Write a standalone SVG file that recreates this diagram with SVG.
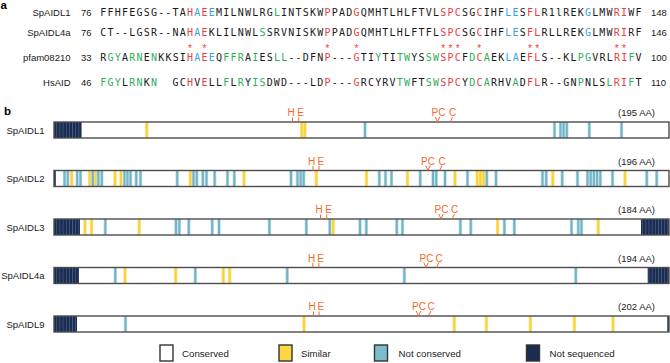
<svg xmlns="http://www.w3.org/2000/svg" xmlns:xlink="http://www.w3.org/1999/xlink" width="670" height="363" viewBox="0 0 670 363">
<style>
.lbl{font-family:"Liberation Sans",Arial,sans-serif;font-size:9.5px;fill:#1a1a1a}
.pl{font-family:"Liberation Sans",Arial,sans-serif;font-weight:bold;font-size:11.5px;fill:#000}
.seq{font-family:"DejaVu Sans Mono",monospace;font-size:10px;letter-spacing:1.21px;fill:#1a1a1a}
.r{fill:#e8403f}.b{fill:#3aa3dd}.g{fill:#2eae5b}
.ast{font-family:"Liberation Sans",Arial,sans-serif;font-size:10px;fill:#e8403f;text-anchor:middle}
.mk{font-family:"Liberation Sans",Arial,sans-serif;font-size:10px;fill:#f26a2a;text-anchor:middle}
.tk{stroke:#f26a2a;stroke-width:1;fill:none}
.bg{fill:#fff}
.out{fill:none;stroke:#4d4d4d;stroke-width:1.4}
.ns{fill:url(#nsp)}
.lb{stroke:#333;stroke-width:1.4}
</style>
<defs>
<pattern id="nsp" patternUnits="userSpaceOnUse" x="54" y="0" width="3.15" height="40">
<rect width="3.15" height="40" fill="#1b2c4f"/><rect x="2.4" width="0.6" height="40" fill="#4c6c9c"/>
</pattern>
<g id="t"><rect x="-1.7" width="3.4" height="16" fill="#bddfe8"/><rect x="-1" width="2" height="16" fill="#72b4c7"/></g>
<g id="y"><rect x="-1.7" width="3.4" height="16" fill="#fde68a"/><rect x="-1" width="2" height="16" fill="#fbd238"/></g>
</defs>
<rect width="670" height="363" fill="#fff"/>

<text class="pl" x="0.5" y="9">a</text>
<text class="pl" x="4" y="114.5">b</text>

<g id="alignment">
<text class="lbl" x="70.5" y="15.5" text-anchor="end">SpAIDL1</text>
<text class="lbl" x="81" y="15.5">76</text>
<text class="seq" x="100.3" y="15.5">FFHFEGSG--TA<tspan class="r">H</tspan><tspan class="b">A</tspan><tspan class="r">E</tspan><tspan class="b">E</tspan>MILNWLRG<tspan class="g">L</tspan>INTSKW<tspan class="r">P</tspan>PAD<tspan class="r">G</tspan>QMHTLHLFTVL<tspan class="r">SPC</tspan>SG<tspan class="r">C</tspan>IHF<tspan class="b">LE</tspan>S<tspan class="r">FL</tspan>R1lREK<tspan class="b">G</tspan>LMW<tspan class="r">RI</tspan>WF</text>
<text class="lbl" x="651" y="15.5">148</text>

<text class="lbl" x="70.5" y="35.5" text-anchor="end">SpAIDL4a</text>
<text class="lbl" x="81" y="35.5">76</text>
<text class="seq" x="100.3" y="35.5">CT--LGSR--NA<tspan class="r">H</tspan><tspan class="b">A</tspan><tspan class="r">E</tspan>KLILNWL<tspan class="g">S</tspan>SRVNISKW<tspan class="r">P</tspan>PAD<tspan class="r">G</tspan>QMHTLHLFTFL<tspan class="r">SPC</tspan>SG<tspan class="r">C</tspan>IHF<tspan class="b">LE</tspan>S<tspan class="r">FL</tspan>RLLREK<tspan class="b">G</tspan>LMW<tspan class="r">RI</tspan>RF</text>
<text class="lbl" x="651" y="35.5">146</text>

<text id="asterisks" class="ast" y="51.5"><tspan x="190.07">*</tspan><tspan x="204.53">*</tspan><tspan x="327.44">*</tspan><tspan x="356.36">*</tspan><tspan x="443.12">*</tspan><tspan x="450.35">*</tspan><tspan x="457.58">*</tspan><tspan x="479.27">*</tspan><tspan x="529.88">*</tspan><tspan x="537.11">*</tspan><tspan x="616.64">*</tspan><tspan x="623.87">*</tspan></text>

<text class="lbl" x="70.5" y="60.5" text-anchor="end">pfam08210</text>
<text class="lbl" x="81" y="60.5">33</text>
<text class="seq" x="100.3" y="60.5">R<tspan class="g">GY</tspan>A<tspan class="g">RN</tspan>E<tspan class="g">N</tspan>KKSI<tspan class="r">H</tspan><tspan class="b">A</tspan><tspan class="r">E</tspan><tspan class="b">E</tspan>Q<tspan class="g">FFR</tspan>A<tspan class="g">I</tspan>ES<tspan class="g">LL</tspan>--DFN<tspan class="r">P</tspan>---<tspan class="r">G</tspan>TI<tspan class="g">Y</tspan>TI<tspan class="g">TW</tspan>YS<tspan class="g">SW</tspan><tspan class="r">SPC</tspan>F<tspan class="g">D</tspan><tspan class="r">C</tspan><tspan class="g">A</tspan>EK<tspan class="b">LA</tspan>E<tspan class="r">FL</tspan>S--KL<tspan class="g">PG</tspan>VRL<tspan class="r">RI</tspan><tspan class="g">F</tspan>V</text>
<text class="lbl" x="651" y="60.5">100</text>

<text class="lbl" x="70.5" y="86" text-anchor="end">HsAID</text>
<text class="lbl" x="81" y="86">46</text>
<text class="seq" x="100.3" y="86"><tspan class="g">FGY</tspan>L<tspan class="g">RN</tspan>K<tspan class="g">N</tspan><tspan x="172.6">GC</tspan><tspan class="r">H</tspan>V<tspan class="r">E</tspan>LL<tspan class="g">F</tspan>L<tspan class="g">R</tspan>Y<tspan class="g">IS</tspan>DWD---LD<tspan class="r">P</tspan>---<tspan class="r">G</tspan>RCYRV<tspan class="g">TW</tspan>FT<tspan class="g">SW</tspan><tspan class="r">SPC</tspan>Y<tspan class="g">D</tspan><tspan class="r">C</tspan><tspan class="g">A</tspan>RHV<tspan class="g">A</tspan>D<tspan class="r">FL</tspan>R--GN<tspan class="g">P</tspan>NLS<tspan class="g">L</tspan><tspan class="r">RI</tspan><tspan class="g">F</tspan>T</text>
<text class="lbl" x="651" y="86">110</text>
</g>

<!-- row 1 -->
<g id="SpAIDL1">
<text class="lbl" x="44.5" y="133.5" text-anchor="end">SpAIDL1</text>
<text class="lbl" x="655" y="116" text-anchor="end">(195 AA)</text>
<rect class="bg" x="54" y="122" width="615" height="16"/>
<rect class="ns" x="54" y="122" width="27.6" height="16"/>
<use xlink:href="#y" x="146.8" y="122"/><use xlink:href="#y" x="301.7" y="122"/><use xlink:href="#y" x="304.8" y="122"/>
<use xlink:href="#t" x="365" y="122"/><use xlink:href="#t" x="554.5" y="122"/><use xlink:href="#t" x="560.5" y="122"/><use xlink:href="#t" x="563.6" y="122"/><use xlink:href="#t" x="566.8" y="122"/><use xlink:href="#t" x="589.3" y="122"/><use xlink:href="#t" x="621.5" y="122"/>
<rect class="out" x="54" y="122" width="615" height="16"/>
<text class="mk" x="291.2" y="116">H</text><text class="mk" x="300.5" y="116">E</text>
<path class="tk" d="M292.5 117.5V122M298.7 117.5V122"/>
<text class="mk" x="438.5" y="116">PC</text><text class="mk" x="452.5" y="116">C</text>
<path class="tk" d="M435.3 117L437.5 122L439.7 117M452.6 117L450 122"/>
</g>

<!-- row 2 -->
<g id="SpAIDL2">
<text class="lbl" x="44.5" y="182" text-anchor="end">SpAIDL2</text>
<text class="lbl" x="655" y="164.5" text-anchor="end">(196 AA)</text>
<rect class="bg" x="54" y="170.5" width="615" height="16"/>
<rect x="54" y="170.5" width="1.8" height="16" fill="#1b2c4f"/>
<g transform="translate(0,170.5)">
<use xlink:href="#t" x="64.5"/><use xlink:href="#t" x="67.8"/><use xlink:href="#y" x="71.7"/><use xlink:href="#t" x="77.2"/><use xlink:href="#t" x="80.5"/><use xlink:href="#y" x="89.7"/><use xlink:href="#t" x="92.8"/><use xlink:href="#y" x="95.7"/><use xlink:href="#t" x="98.3"/><use xlink:href="#t" x="101.8"/>
<use xlink:href="#y" x="115"/><use xlink:href="#y" x="121"/><use xlink:href="#t" x="124.5"/><use xlink:href="#t" x="127.5"/><use xlink:href="#t" x="130.5"/><use xlink:href="#t" x="136.2"/><use xlink:href="#t" x="140.5"/>
<use xlink:href="#t" x="177.2"/><use xlink:href="#y" x="190.3"/><use xlink:href="#t" x="193.5"/><use xlink:href="#t" x="196.8"/><use xlink:href="#t" x="202.8"/><use xlink:href="#t" x="206.5"/><use xlink:href="#t" x="214.7"/>
<use xlink:href="#t" x="227.5"/><use xlink:href="#t" x="234.3"/><use xlink:href="#y" x="244"/>
<use xlink:href="#t" x="291"/><use xlink:href="#t" x="297.5"/><use xlink:href="#t" x="300.7"/><use xlink:href="#t" x="303.7"/><use xlink:href="#y" x="316.3"/>
<use xlink:href="#y" x="366.5"/><use xlink:href="#t" x="379.3"/><use xlink:href="#t" x="385.5"/><use xlink:href="#t" x="391.5"/><use xlink:href="#y" x="407.5"/>
<use xlink:href="#t" x="420.2"/><use xlink:href="#t" x="433"/><use xlink:href="#t" x="436.2"/><use xlink:href="#t" x="445"/><use xlink:href="#y" x="455"/>
<use xlink:href="#t" x="467.5"/><use xlink:href="#y" x="477.2"/><use xlink:href="#y" x="480.4"/><use xlink:href="#y" x="483.6"/><use xlink:href="#t" x="486.8"/><use xlink:href="#t" x="496"/>
<use xlink:href="#t" x="542.5"/><use xlink:href="#t" x="546.2"/><use xlink:href="#y" x="552.8"/><use xlink:href="#t" x="562.2"/><use xlink:href="#t" x="577.5"/>
<use xlink:href="#t" x="587.5"/><use xlink:href="#t" x="590.7"/><use xlink:href="#t" x="593.9"/><use xlink:href="#t" x="597.1"/><use xlink:href="#t" x="600.3"/>
<use xlink:href="#t" x="612.5"/><use xlink:href="#y" x="625"/><use xlink:href="#t" x="646.8"/><use xlink:href="#t" x="656.7"/>
</g>
<rect class="out" x="54" y="170.5" width="615" height="16"/>
<text class="mk" x="311.7" y="164.5">H</text><text class="mk" x="320.8" y="164.5">E</text>
<path class="tk" d="M313 166V170.5M319 166V170.5"/>
<text class="mk" x="428" y="164.5">PC</text><text class="mk" x="442" y="164.5">C</text>
<path class="tk" d="M425.8 165.5L428 170.5L430.2 165.5M442.1 165.5L439.5 170.5"/>
</g>

<!-- row 3 -->
<g id="SpAIDL3">
<text class="lbl" x="44.5" y="230.5" text-anchor="end">SpAIDL3</text>
<text class="lbl" x="655" y="213" text-anchor="end">(184 AA)</text>
<rect class="bg" x="54" y="219" width="615" height="16"/>
<rect class="ns" x="54" y="219" width="26" height="16"/>
<rect class="ns" x="641" y="219" width="28" height="16"/>
<g transform="translate(0,219)">
<use xlink:href="#y" x="85"/><use xlink:href="#y" x="91.6"/><use xlink:href="#t" x="105.3"/><use xlink:href="#y" x="139.2"/>
<use xlink:href="#t" x="176"/><use xlink:href="#t" x="179.3"/><use xlink:href="#t" x="188.8"/><use xlink:href="#t" x="212.2"/><use xlink:href="#t" x="219"/>
<use xlink:href="#t" x="269.4"/><use xlink:href="#t" x="306.3"/><use xlink:href="#t" x="329.8"/><use xlink:href="#y" x="333.2"/>
<use xlink:href="#t" x="360"/><use xlink:href="#t" x="366.3"/><use xlink:href="#t" x="396.8"/><use xlink:href="#t" x="402.5"/>
<use xlink:href="#t" x="460.4"/><use xlink:href="#t" x="470.8"/><use xlink:href="#y" x="497.6"/><use xlink:href="#t" x="504.4"/><use xlink:href="#t" x="514.3"/>
<use xlink:href="#t" x="571.5"/><use xlink:href="#t" x="578.3"/><use xlink:href="#t" x="581.5"/><use xlink:href="#y" x="598.2"/>
</g>
<rect class="out" x="54" y="219" width="615" height="16"/>
<text class="mk" x="319" y="213">H</text><text class="mk" x="328.5" y="213">E</text>
<path class="tk" d="M320.5 214.5V219M326.7 214.5V219"/>
<text class="mk" x="441.5" y="213">PC</text><text class="mk" x="454.5" y="213">C</text>
<path class="tk" d="M438.8 214L441 219L443.2 214M454.6 214L452 219"/>
</g>

<!-- row 4 -->
<g id="SpAIDL4a">
<text class="lbl" x="44.5" y="279" text-anchor="end">SpAIDL4a</text>
<text class="lbl" x="655" y="261.5" text-anchor="end">(194 AA)</text>
<rect class="bg" x="54" y="267.5" width="615" height="16"/>
<rect class="ns" x="54" y="267.5" width="25" height="16"/>
<rect class="ns" x="647.7" y="267.5" width="21.3" height="16"/>
<g transform="translate(0,267.5)">
<use xlink:href="#t" x="115.3"/><use xlink:href="#y" x="125"/><use xlink:href="#y" x="175.7"/><use xlink:href="#t" x="195.3"/><use xlink:href="#y" x="223.3"/><use xlink:href="#y" x="229.7"/>
<use xlink:href="#t" x="287.2"/><use xlink:href="#t" x="404.4"/><use xlink:href="#t" x="575.8"/>
</g>
<rect class="out" x="54" y="267.5" width="615" height="16"/>
<text class="mk" x="311.5" y="261.5">H</text><text class="mk" x="320.7" y="261.5">E</text>
<path class="tk" d="M312.8 263V267.5M318.9 263V267.5"/>
<text class="mk" x="426.5" y="261.5">PC</text><text class="mk" x="439" y="261.5">C</text>
<path class="tk" d="M423.8 262.5L426 267.5L428.2 262.5M439 262.5L436.4 267.5"/>
</g>

<!-- row 5 -->
<g id="SpAIDL9">
<text class="lbl" x="44.5" y="327.5" text-anchor="end">SpAIDL9</text>
<text class="lbl" x="655" y="310" text-anchor="end">(202 AA)</text>
<rect class="bg" x="54" y="316" width="615" height="16"/>
<rect class="ns" x="54" y="316" width="23" height="16"/>
<rect x="667.3" y="316" width="1.7" height="16" fill="#1b2c4f"/>
<g transform="translate(0,316)">
<use xlink:href="#t" x="125.5"/><use xlink:href="#y" x="304"/><use xlink:href="#y" x="454.2"/><use xlink:href="#y" x="486.4"/><use xlink:href="#y" x="530.4"/><use xlink:href="#y" x="574.4"/><use xlink:href="#y" x="613"/>
</g>
<rect class="out" x="54" y="316" width="615" height="16"/>
<text class="mk" x="312.2" y="310">H</text><text class="mk" x="320.8" y="310">E</text>
<path class="tk" d="M313.5 311.5V316M319 311.5V316"/>
<text class="mk" x="419" y="310">PC</text><text class="mk" x="431" y="310">C</text>
<path class="tk" d="M416.3 311L418.5 316L420.7 311M431 311L428.4 316"/>
</g>

<g id="legend">
<rect class="lb" x="160" y="345" width="13" height="16" fill="#fff"/>
<text class="lbl" x="182" y="357" style="font-size:9.7px">Conserved</text>
<rect class="lb" x="279" y="345" width="13" height="16" fill="#fcd73f"/>
<text class="lbl" x="301" y="357" style="font-size:9.7px">Similar</text>
<rect class="lb" x="374.5" y="345" width="13" height="16" fill="#7dbccc"/>
<text class="lbl" x="398.5" y="357" style="font-size:9.7px">Not conserved</text>
<rect class="lb" x="526.5" y="345" width="13" height="16" fill="#1b2c4f"/>
<text class="lbl" x="549.5" y="357" style="font-size:9.7px">Not sequenced</text>
</g>
</svg>
